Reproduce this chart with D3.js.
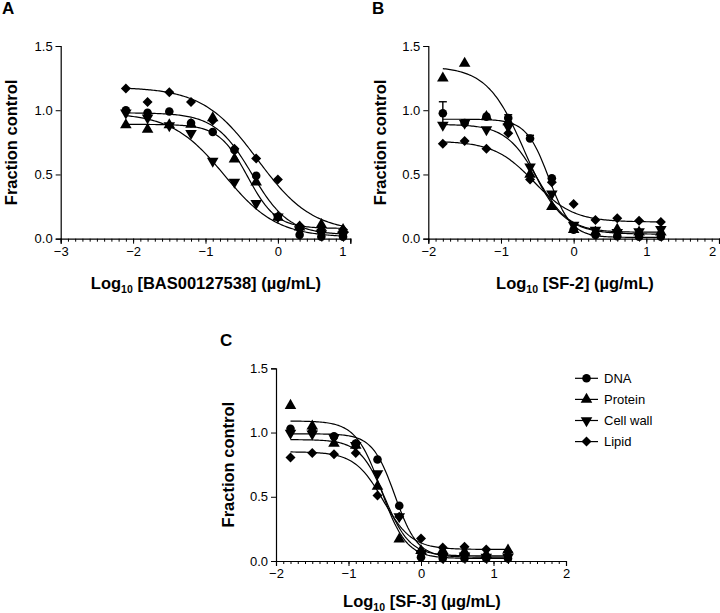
<!DOCTYPE html>
<html><head><meta charset="utf-8">
<script src="https://cdn.jsdelivr.net/npm/d3@7"></script>
<style>
body{margin:0;background:#fff;}
text{font-family:"Liberation Sans",Arial,Helvetica,sans-serif;fill:#000;}
</style></head>
<body><svg id="chart" width="720" height="613"></svg>
<script>
// ---------------- data ----------------
const seriesNames = ["DNA", "Protein", "Cell wall", "Lipid"];
const yTicks = [0, 0.5, 1.0, 1.5];
const xTicksA = [-3, -2, -1, 0, 1];
const xTicksBC = [-2, -1, 0, 1, 2];

const xA = [-2.1, -1.8, -1.5, -1.2, -0.9, -0.6, -0.3, 0, 0.3, 0.6, 0.9];
const A_DNA      = [1.00, 0.98, 0.99, 0.90, 0.83, 0.69, 0.49, 0.17, 0.03, 0.015, 0.015];
const A_Protein  = [0.885, 0.85, 0.885, 0.89, 0.94, 0.62, 0.44, 0.165, 0.09, 0.11, 0.07];
const A_CellWall = [0.98, 0.94, 0.88, 0.82, 0.605, 0.44, 0.275, 0.17, 0.07, 0.04, 0.03];
const A_Lipid    = [1.17, 1.065, 1.14, 1.065, 0.92, 0.70, 0.625, 0.46, 0.10, 0.07, 0.07];
// fitted 4PL parameters: [top, bottom, logIC50, hill]
const fitA_DNA      = [0.98, 0.03, -0.36, 1.7];
const fitA_Protein  = [0.89, 0.08, -0.42, 2.2];
const fitA_CellWall = [0.98, 0.01, -0.74, 1.2];
const fitA_Lipid    = [1.18, 0.05, -0.28, 1.15];

const xB = [-1.8, -1.5, -1.2, -0.9, -0.6, -0.3, 0, 0.3, 0.6, 0.9, 1.2];
const B_DNA      = [0.976, 0.90, 0.95, 0.94, 0.78, 0.47, 0.07, 0.03, 0.02, 0.016, 0.016];
const B_DNA_err  = [0.09, 0, 0, 0.025, 0.025, 0, 0, 0, 0, 0, 0];
const B_Protein  = [1.25, 1.365, 0.95, 0.91, 0.50, 0.25, 0.07, 0.05, 0.073, 0.05, 0.05];
const B_CellWall = [0.885, 0.90, 0.85, 0.87, 0.56, 0.35, 0.105, 0.067, 0.05, 0.055, 0.073];
const B_Lipid    = [0.74, 0.76, 0.70, 0.82, 0.46, 0.44, 0.27, 0.145, 0.16, 0.14, 0.13];
const fitB_DNA      = [0.93, 0.01, -0.34, 2.8];
const fitB_Protein  = [1.34, 0.035, -0.68, 1.7];
const fitB_CellWall = [0.89, 0.05, -0.50, 2.0];
const fitB_Lipid    = [0.76, 0.13, -0.55, 1.6];

const xC = [-1.8, -1.5, -1.2, -0.9, -0.6, -0.3, 0, 0.3, 0.6, 0.9, 1.2];
const C_DNA      = [1.03, 1.01, 0.97, 0.915, 0.79, 0.43, 0.03, 0.02, 0.02, 0.02, 0.02];
const C_Protein  = [1.21, 1.05, 0.915, 0.90, 0.58, 0.17, 0.08, 0.08, 0.07, 0.05, 0.085];
const C_CellWall = [0.995, 0.99, 0.96, 0.90, 0.68, 0.345, 0.06, 0.03, 0.04, 0.03, 0.03];
const C_Lipid    = [0.805, 0.84, 0.83, 0.84, 0.51, 0.345, 0.176, 0.106, 0.11, 0.09, 0.07];
const fitC_DNA      = [0.99, 0.03, -0.36, 2.8];
const fitC_Protein  = [1.09, 0.02, -0.55, 2.5];
const fitC_CellWall = [0.945, 0.04, -0.50, 2.5];
const fitC_Lipid    = [0.85, 0.09, -0.52, 2.2];

// ---------------- drawing ----------------
const svg = d3.select("#chart");
const shapes = ["circle", "up", "down", "diamond"];

function symbolPath(kind) {
  if (kind === "circle") return d3.symbol(d3.symbolCircle, 58)();
  if (kind === "diamond") return d3.symbol(d3.symbolSquare, 50)();
  return d3.symbol(d3.symbolTriangle, 58)();
}
function symbolTransform(kind, x, y) {
  if (kind === "diamond") return `translate(${x},${y}) rotate(45)`;
  if (kind === "down") return `translate(${x},${y}) rotate(180)`;
  return `translate(${x},${y})`;
}

function drawPanel(cfg) {
  const g = svg.append("g");
  const x = d3.scaleLinear().domain(cfg.xDomain).range(cfg.xRange);
  const y = d3.scaleLinear().domain([0, 1.5]).range(cfg.yRange);

  // y axis
  const yAxis = g.append("g").attr("transform", `translate(${cfg.xRange[0]},0)`)
    .call(d3.axisLeft(y).tickValues(yTicks).tickFormat(d3.format(".1f")).tickSize(5).tickPadding(3));
  yAxis.selectAll("text").attr("font-size", 13).attr("font-family", "Liberation Sans, Arial");

  // x axis: major + minor
  const y0 = cfg.yRange[0];
  const xAxis = g.append("g").attr("transform", `translate(0,${y0})`)
    .call(d3.axisBottom(x).tickValues(cfg.xTicks).tickFormat(d => d < 0 ? "\u2212" + Math.abs(d) : d).tickSize(5).tickPadding(3));
  xAxis.selectAll("text").attr("font-size", 13).attr("font-family", "Liberation Sans, Arial");
  xAxis.selectAll(".tick").filter((d, i, n) => i === n.length - 1).select("text").attr("dx", cfg.lastDx);
  const minor = d3.range(cfg.xDomain[0] * 10, cfg.xDomain[1] * 10 + 0.5).map(v => v / 10);
  g.append("g").attr("transform", `translate(0,${y0})`)
    .call(d3.axisBottom(x).tickValues(minor).tickFormat("").tickSize(3))
    .select(".domain").remove();
  g.selectAll(".domain").attr("stroke-width", 1.2);
  g.selectAll(".tick line").attr("stroke-width", 1);

  // curves
  const lineGen = d3.line().x(d => x(d[0])).y(d => y(d[1]));
  cfg.fits.forEach(p => {
    const xs = d3.range(cfg.xs[0], cfg.xs[cfg.xs.length - 1] + 0.0001, 0.02);
    const pts = xs.map(v => [v, p[1] + (p[0] - p[1]) / (1 + Math.pow(10, (v - p[2]) * p[3]))]);
    g.append("path").attr("d", lineGen(pts)).attr("fill", "none").attr("stroke", "#000").attr("stroke-width", 1.2);
  });

  // error bars
  if (cfg.errs) {
    cfg.errs.forEach(e => {
      e.err.forEach((v, i) => {
        if (!v) return;
        const cx = x(cfg.xs[i]), top = y(e.vals[i] + v), bot = y(e.vals[i] - v);
        g.append("line").attr("x1", cx).attr("x2", cx).attr("y1", top).attr("y2", bot).attr("stroke", "#000").attr("stroke-width", 1.4);
        g.append("line").attr("x1", cx - 4).attr("x2", cx + 4).attr("y1", top).attr("y2", top).attr("stroke", "#000").attr("stroke-width", 1.4);
      });
    });
  }

  // markers
  cfg.series.forEach((vals, si) => {
    const kind = shapes[si];
    g.selectAll(null).data(vals).enter().append("path")
      .attr("d", symbolPath(kind))
      .attr("transform", (d, i) => symbolTransform(kind, x(cfg.xs[i]), y(d)))
      .attr("fill", "#000");
  });

  // axis titles
  g.append("text")
    .attr("transform", `translate(${cfg.yTitleX},${(cfg.yRange[0] + cfg.yRange[1]) / 2}) rotate(-90)`)
    .attr("text-anchor", "middle").attr("font-size", 16.5).attr("font-weight", "bold")
    .attr("dy", "0.35em").text("Fraction control");
  const xt = g.append("text").attr("x", cfg.xTitleX).attr("y", cfg.xTitleY)
    .attr("text-anchor", "middle").attr("font-size", 16.5).attr("font-weight", "bold");
  xt.append("tspan").text("Log");
  xt.append("tspan").attr("font-size", 10.5).attr("dy", 4).text("10");
  xt.append("tspan").attr("dy", -4).text(" " + cfg.compound + " (\u00b5g/mL)");

  // panel letter
  g.append("text").attr("x", cfg.letterX).attr("y", cfg.letterY)
    .attr("font-size", 17).attr("font-weight", "bold").text(cfg.letter);
}

drawPanel({
  letter: "A", letterX: 2, letterY: 14,
  xDomain: [-3, 1], xRange: [60.7, 350.3], yRange: [238.7, 46], xTicks: xTicksA, lastDx: -8,
  xs: xA, series: [A_DNA, A_Protein, A_CellWall, A_Lipid],
  fits: [fitA_DNA, fitA_Protein, fitA_CellWall, fitA_Lipid],
  yTitleX: 11, xTitleX: 206, xTitleY: 289, compound: "[BAS00127538]"
});
drawPanel({
  letter: "B", letterX: 372, letterY: 14,
  xDomain: [-2, 2], xRange: [428.3, 719], yRange: [238.7, 46], xTicks: xTicksBC, lastDx: -7,
  xs: xB, series: [B_DNA, B_Protein, B_CellWall, B_Lipid],
  fits: [fitB_DNA, fitB_Protein, fitB_CellWall, fitB_Lipid],
  errs: [{vals: B_DNA, err: B_DNA_err}],
  yTitleX: 380, xTitleX: 575, xTitleY: 289, compound: "[SF-2]"
});
drawPanel({
  letter: "C", letterX: 220, letterY: 346,
  xDomain: [-2, 2], xRange: [276, 566], yRange: [561, 368.3], xTicks: xTicksBC, lastDx: 0,
  xs: xC, series: [C_DNA, C_Protein, C_CellWall, C_Lipid],
  fits: [fitC_DNA, fitC_Protein, fitC_CellWall, fitC_Lipid],
  yTitleX: 228, xTitleX: 422, xTitleY: 607, compound: "[SF-3]"
});

// legend
const leg = svg.append("g");
seriesNames.forEach((name, i) => {
  const ly = 378.3 + i * 21.1;
  leg.append("line").attr("x1", 575).attr("x2", 598).attr("y1", ly).attr("y2", ly).attr("stroke", "#000").attr("stroke-width", 1.2);
  leg.append("path").attr("d", symbolPath(shapes[i])).attr("transform", symbolTransform(shapes[i], 586.5, ly)).attr("fill", "#000");
  leg.append("text").attr("x", 604).attr("y", ly).attr("dy", "0.35em").attr("font-size", 13).text(name);
});
</script></body></html>
